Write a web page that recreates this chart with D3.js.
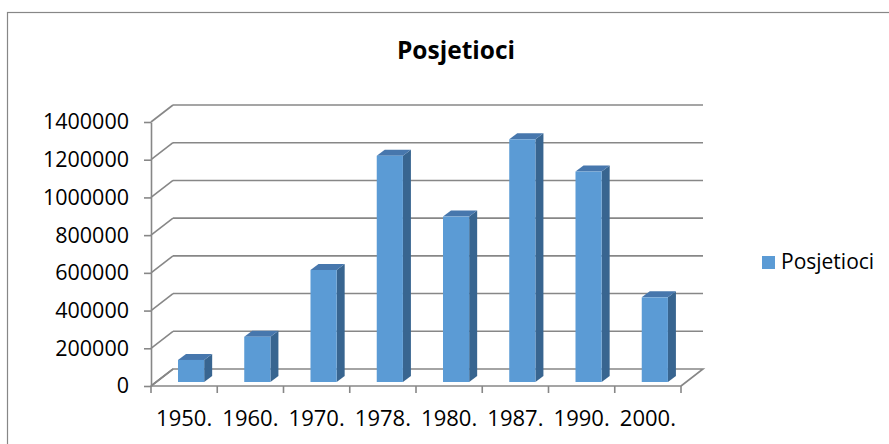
<!DOCTYPE html>
<html><head><meta charset="utf-8">
<script src="https://cdn.jsdelivr.net/npm/d3@7"></script>
<style>html,body{margin:0;padding:0;background:#fff;}svg{display:block;}</style>
</head><body>
<script>
const categories = ["1950.", "1960.", "1970.", "1978.", "1980.", "1987.", "1990.", "2000."];
const values = [117000, 240000, 594000, 1200000, 877000, 1287000, 1116000, 449000];
const yTicks = [0, 200000, 400000, 600000, 800000, 1000000, 1200000, 1400000];
const seriesName = "Posjetioci";
const title = "Posjetioci";

const W = 889, H = 444;
const svg = d3.select("body").append("svg").attr("width", W).attr("height", H);
const FONT = "'Open Sans', sans-serif";
const grid = "#878787";

// outer border
svg.append("rect").attr("x", 7.5).attr("y", 12.5).attr("width", 900).attr("height", 460)
  .attr("fill", "#fff").attr("stroke", grid).attr("stroke-width", 1.2);

// plot geometry
const x = d3.scaleBand().domain(categories).range([151, 681]).padding(0);
const y = d3.scaleLinear().domain([0, 1400000]).range([386, 122]);
const DX = 22, DY = -17;          // wall depth
const bdx = 5.2, bdy = -4;        // bar front face depth position
const bDepthX = 8, bDepthY = -6;  // bar depth
const x0 = x.range()[0], x1 = x.range()[1];

const g = svg.append("g");

// back wall gridlines
g.selectAll("line.back").data(yTicks.slice(1)).enter().append("line")
  .attr("x1", x0 + DX).attr("x2", x1 + DX)
  .attr("y1", d => y(d) + DY).attr("y2", d => y(d) + DY)
  .attr("stroke", grid).attr("stroke-width", 1.6);
// side wall gridlines
g.selectAll("line.side").data(yTicks).enter().append("line")
  .attr("x1", x0).attr("x2", x0 + DX)
  .attr("y1", d => y(d)).attr("y2", d => y(d) + DY)
  .attr("stroke", grid).attr("stroke-width", 1.6);
// floor
g.append("path")
  .attr("d", `M${x0},${y(0)}L${x0 + DX},${y(0) + DY}L${x1 + DX},${y(0) + DY}L${x1},${y(0)}`)
  .attr("fill", "none").attr("stroke", grid).attr("stroke-width", 1.6);

// y axis
const yAxis = d3.axisLeft(y).tickValues(yTicks).tickSize(7).tickSizeOuter(0).tickPadding(15)
  .tickFormat(d3.format("d"));
const ya = svg.append("g").attr("transform", `translate(${x0},0)`).call(yAxis);
ya.select(".domain").attr("stroke", grid).attr("stroke-width", 1.6);
ya.selectAll(".tick line").attr("stroke", grid).attr("stroke-width", 1.6);
ya.selectAll(".tick text").attr("font-family", FONT).attr("font-size", 21.5).attr("fill", "#000");

// x axis line + ticks at band boundaries
const bounds = categories.map(c => x(c)).concat([x1]);
svg.append("line").attr("x1", x0).attr("x2", x1).attr("y1", y(0)).attr("y2", y(0))
  .attr("stroke", grid).attr("stroke-width", 1.6);
svg.selectAll("line.xt").data(bounds).enter().append("line")
  .attr("x1", d => d).attr("x2", d => d).attr("y1", y(0)).attr("y2", y(0) + 7)
  .attr("stroke", grid).attr("stroke-width", 1.6);
svg.selectAll("text.xl").data(categories).enter().append("text")
  .attr("x", d => x(d) + x.bandwidth() / 2).attr("y", 426)
  .attr("text-anchor", "middle").attr("font-family", FONT).attr("font-size", 22)
  .attr("fill", "#000").text(d => d);

// bars
const bw = x.bandwidth();
const offs = bw * 0.329, fw = bw * 0.395;
const bars = svg.append("g").selectAll("g").data(categories.map((c, i) => ({c, v: values[i]})))
  .enter().append("g");
bars.each(function(d) {
  const gx = d3.select(this);
  const L = x(d.c) + bdx + offs, R = L + fw;
  const yb = y(0) + bdy, yt = y(d.v) + bdy;
  // side
  gx.append("path").attr("d",
    `M${R},${yt}L${R + bDepthX},${yt + bDepthY}L${R + bDepthX},${yb + bDepthY}L${R},${yb}Z`)
    .attr("fill", "#386590");
  // top
  gx.append("path").attr("d",
    `M${L},${yt}L${L + bDepthX},${yt + bDepthY}L${R + bDepthX},${yt + bDepthY}L${R},${yt}Z`)
    .attr("fill", "#4777ad");
  // front
  gx.append("rect").attr("x", L).attr("y", yt).attr("width", fw).attr("height", yb - yt)
    .attr("fill", "#5b9bd5");
});

// title
svg.append("text").attr("x", 456).attr("y", 59).attr("text-anchor", "middle")
  .attr("font-family", FONT).attr("font-weight", "bold").attr("font-size", 24.5)
  .attr("fill", "#000").text(title);

// legend
const lg = svg.append("g");
lg.append("rect").attr("x", 762).attr("y", 256).attr("width", 13).attr("height", 13).attr("fill", "#5b9bd5");
lg.append("text").attr("x", 781).attr("y", 269).attr("font-family", FONT).attr("font-size", 21)
  .attr("fill", "#000").text(seriesName);
</script>
</body></html>
